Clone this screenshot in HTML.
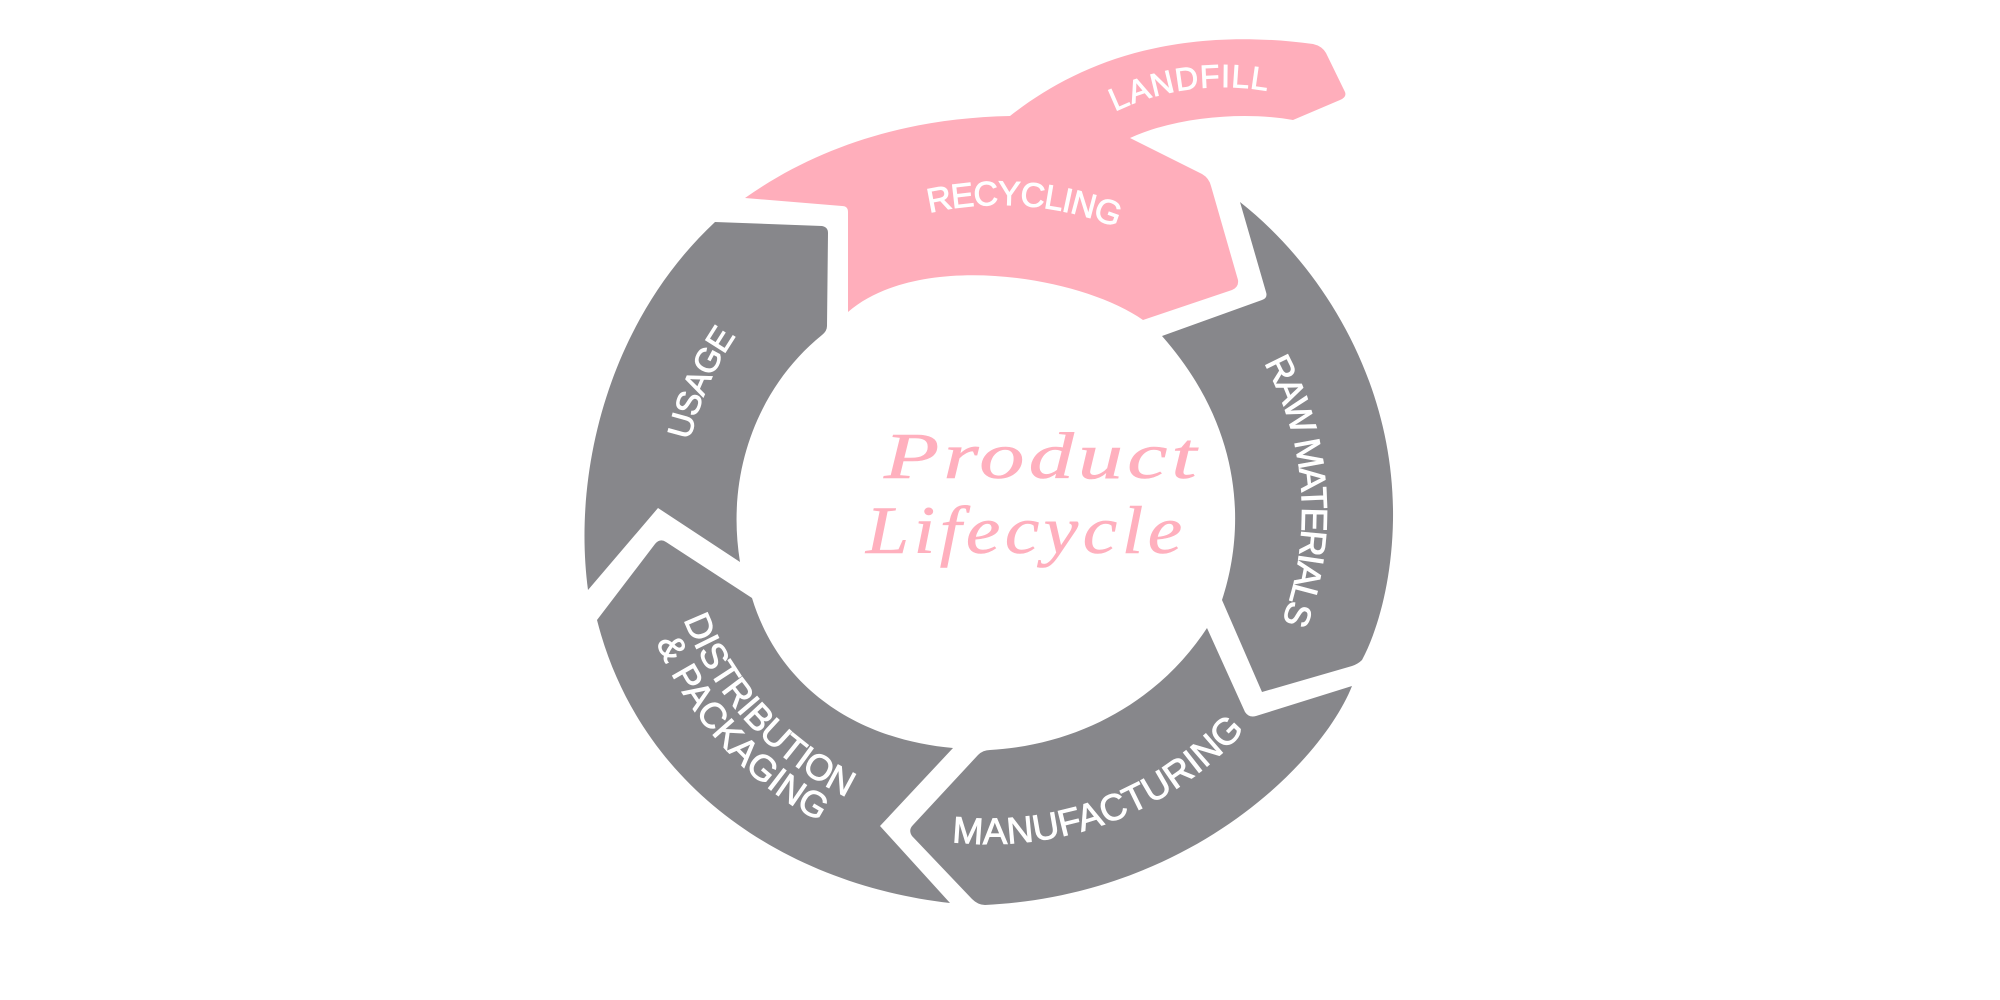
<!DOCTYPE html>
<html>
<head>
<meta charset="utf-8">
<style>
  html, body { margin:0; padding:0; background:#ffffff; }
  svg { display:block; }
  .lbl { font-family:"Liberation Sans", "DejaVu Sans", sans-serif; fill:#ffffff; stroke:#ffffff; stroke-width:0.9px; }
  .script { font-family:"Liberation Serif", "DejaVu Serif", serif; font-style:italic; font-weight:normal; fill:#ffb0be; stroke:#ffb0be; stroke-width:0.6px; }
</style>
</head>
<body>
<svg width="2000" height="1000" viewBox="0 0 2000 1000" xmlns="http://www.w3.org/2000/svg">
  <defs>
    <path id="pUsage" d="M682.7,489.9 A308,308 0 0 1 767.6,297.0"/>
    <path id="pRecycling" d="M915.3,216.6 A315,315 0 0 1 1130.1,233.1"/>
    <path id="pLandfill" d="M1107.1,115.6 A249,249 0 0 1 1275.8,92.7"/>
    <path id="pRaw" d="M1248.8,337.7 A312,312 0 0 1 1270.3,649.0"/>
    <path id="pManu" d="M878.1,825.2 A342,342 0 0 0 1288.8,668.3"/>
    <path id="pDist" d="M669.8,573.3 A328,328 0 0 0 891.6,814.9"/>
    <path id="pPack" d="M636.4,579.4 A362,362 0 0 0 880.2,846.9"/>
  </defs>

  <!-- Recycling + Landfill (pink) -->
  <path fill="#ffaebb" d="M745,198
    C820,145 910,118 1010,116
    C1075,65 1170,25 1313,44
    Q1322,46 1326,53
    L1345,92
    Q1347,97 1340,100
    L1293,120
    C1250,112 1180,115 1130,138
    L1202,174
    Q1209,178 1211,186
    L1238,280
    Q1239,287 1232,290
    L1143,320
    C1080,276 920,250 848,312
    L848,212
    Q848,206 842,206
    Z"/>

  <!-- Raw materials -->
  <path fill="#87878b" d="M1240,202
    C1320,265 1395,380 1393,520
    C1392,580 1378,630 1362,660
    Q1358,664 1352,666
    L1262,692
    L1222,600
    C1245,530 1245,430 1162,336
    L1262,300
    Q1268,298 1266,292
    Z"/>

  <!-- Manufacturing -->
  <path fill="#87878b" d="M1207,628
    L1245,712
    Q1249,718 1256,716
    L1352,686
    C1322,762 1190,895 985,905
    Q978,905 972,899
    L912,836
    Q908,830 913,825
    L978,755
    Q983,750 990,750
    C1080,745 1160,700 1207,628 Z"/>

  <!-- Distribution & Packaging -->
  <path fill="#87878b" d="M597,620
    L655,544
    Q660,538 666,542
    L752,598
    C780,690 860,740 953,748
    L880,826
    L950,903
    C790,885 640,790 597,620 Z"/>

  <!-- Usage -->
  <path fill="#87878b" d="M715,222
    L822,226
    Q828,227 828,233
    L827,326
    Q827,331 822,335
    C760,385 725,470 740,562
    L658,508
    L588,590
    C572,470 610,320 715,222 Z"/>

  <!-- Labels -->
  <text class="lbl" style="font-size:34px"><textPath href="#pUsage" startOffset="50%" text-anchor="middle" textLength="115">USAGE</textPath></text>
  <text class="lbl" style="font-size:34px"><textPath href="#pRecycling" startOffset="50%" text-anchor="middle" textLength="191">RECYCLING</textPath></text>
  <text class="lbl" style="font-size:32px"><textPath href="#pLandfill" startOffset="50%" text-anchor="middle" textLength="156">LANDFILL</textPath></text>
  <text class="lbl" style="font-size:36px"><textPath href="#pRaw" startOffset="50%" text-anchor="middle" textLength="268">RAW MATERIALS</textPath></text>
  <text class="lbl" style="font-size:37px"><textPath href="#pManu" startOffset="50%" text-anchor="middle" textLength="326">MANUFACTURING</textPath></text>
  <text class="lbl" style="font-size:36px"><textPath href="#pDist" startOffset="50%" text-anchor="middle" textLength="247">DISTRIBUTION</textPath></text>
  <text class="lbl" style="font-size:36px"><textPath href="#pPack" startOffset="50%" text-anchor="middle" textLength="247">&amp; PACKAGING</textPath></text>

  <!-- Center title -->
  <g transform="translate(884,478) scale(1.37,1)">
    <text class="script" x="0" y="0" style="font-size:66px; letter-spacing:3px">Product</text>
  </g>
  <g transform="translate(866,553) scale(1.14,1)">
    <text class="script" x="0" y="0" style="font-size:68px; letter-spacing:4px">Lifecycle</text>
  </g>
</svg>
</body>
</html>
